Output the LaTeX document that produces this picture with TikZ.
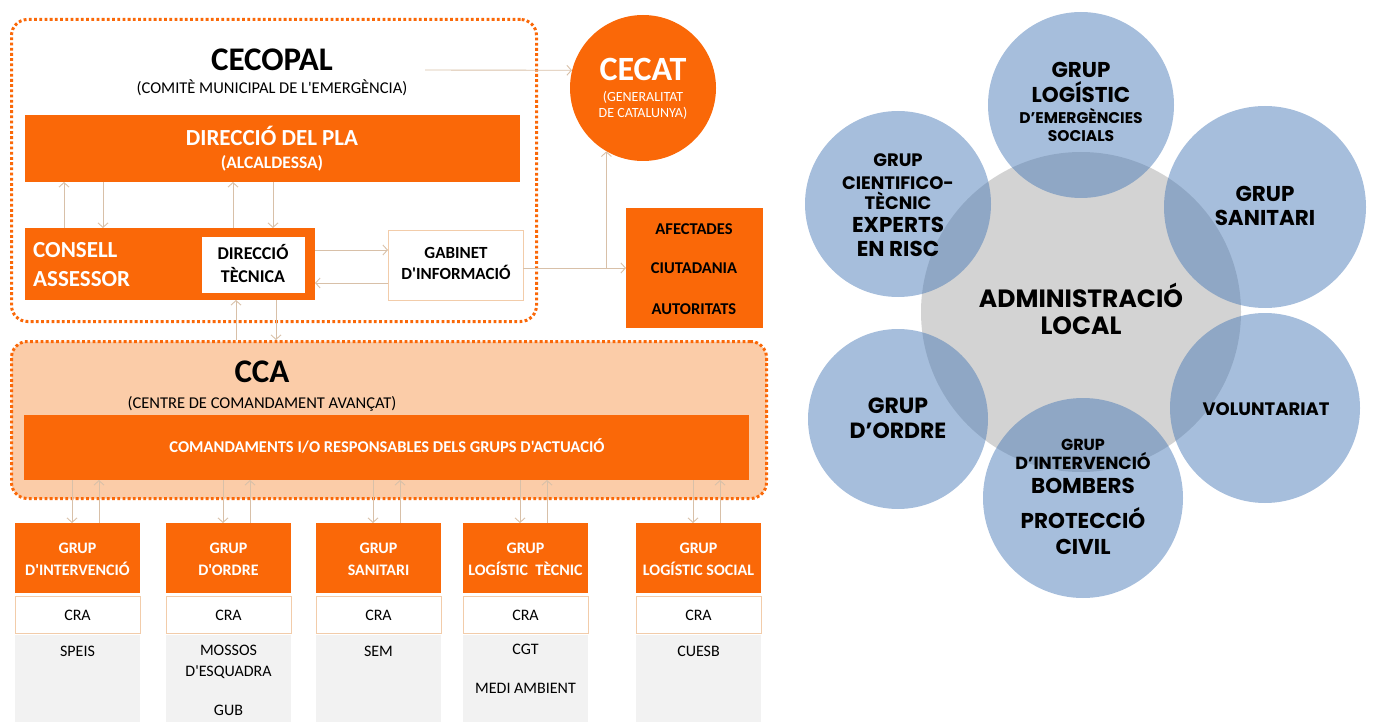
\documentclass[tikz,border=0pt]{standalone}
\usepackage{fontspec}
\usetikzlibrary{arrows.meta,calc}
\newfontfamily\calfont{Carlito}
\newfontfamily\gothfont{Poppins}
\definecolor{orng}{RGB}{250,104,8}
\definecolor{peach}{RGB}{251,204,168}
\definecolor{tanline}{RGB}{216,192,168}
\definecolor{lgrey}{RGB}{242,242,242}
\definecolor{cblue}{RGB}{70,120,182}
\definecolor{cgrey}{RGB}{211,211,211}
\definecolor{crab}{RGB}{242,204,170}
\newcommand\fz[1]{\fontsize{#1}{#1}\selectfont}
\begin{document}
\begin{tikzpicture}[x=1pt,y=-1pt,
  obox/.style={fill=orng, anchor=north west, inner sep=0, outer sep=0},
  wbox/.style={fill=white, draw=crab, line width=0.8pt, anchor=north west, inner sep=0, outer sep=0},
  gbox/.style={fill=lgrey, anchor=north west, inner sep=0, outer sep=0},
  dotframe/.style={draw=orng, line width=3pt, dash pattern=on 2.8pt off 2.4pt, rounded corners=16pt, anchor=north west, inner sep=0},
  arr/.style={draw=tanline, line width=0.9pt, -{Straight Barb[length=4.5pt,width=10pt]}},
  lbl/.style={inner sep=0, anchor=base, font=\calfont},
  wl/.style={lbl, text=white},
  circ/.style={circle, inner sep=0, fill=cblue, fill opacity=0.48, text opacity=1},
  rl/.style={inner sep=0, anchor=base, font=\gothfont\bfseries}]
\useasboundingbox (0,0) rectangle (1374,722);

% ---------- CECOPAL frame ----------
\node[dotframe, minimum width=525, minimum height=302] (cecopalbox) at (10,18) {};
\node[lbl, font=\calfont\bfseries\fz{33}] (tcecopal) at (272,70.6) {CECOPAL};
\node[lbl, font=\calfont\fz{16.5}] (tcomite) at (272,93.3) {(COMITÈ MUNICIPAL DE L'EMERGÈNCIA)};

\node[obox, minimum width=495, minimum height=67] (pla) at (25,115) {};
\node[wl, font=\calfont\bfseries\fz{23}] (tpla) at (272,145.4) {DIRECCIÓ DEL PLA};
\node[wl, font=\calfont\bfseries\fz{17.5}] (talc) at (272,168.6) {(ALCALDESSA)};

\node[obox, minimum width=290, minimum height=72] (consell) at (25,228) {};
\node[wl, anchor=base west, font=\calfont\bfseries\fz{23}] (tcons) at (33,257.4) {CONSELL};
\node[wl, anchor=base west, font=\calfont\bfseries\fz{23}] (tass) at (33,286.4) {ASSESSOR};
\node[fill=white, anchor=north west, inner sep=0, minimum width=103, minimum height=56] (dirtec) at (202,237) {};
\node[lbl, font=\calfont\bfseries\fz{18}] (tdir) at (253,259.8) {DIRECCIÓ};
\node[lbl, font=\calfont\bfseries\fz{18}] (ttec) at (253,282.8) {TÈCNICA};

\node[wbox, minimum width=135, minimum height=70] (gabinet) at (388,230) {};
\node[lbl, font=\calfont\bfseries\fz{17}] (tgab) at (456,258.4) {GABINET};
\node[lbl, font=\calfont\bfseries\fz{17}] (tinf) at (456,279.4) {D'INFORMACIÓ};

% ---------- CECAT ----------
\node[circle, fill=orng, inner sep=0, minimum size=146] (cecat) at (643,88) {};
\node[wl, font=\calfont\bfseries\fz{34}] (tcecat) at (643,80.9) {CECAT};
\node[wl, font=\calfont\fz{14}] (tgen) at (643,101.5) {(GENERALITAT};
\node[wl, font=\calfont\fz{14}] (tcat) at (643,117.5) {DE CATALUNYA)};

% ---------- AFECTADES ----------
\node[obox, minimum width=137, minimum height=120] (afect) at (626,208) {};
\node[lbl, font=\calfont\bfseries\fz{16.5}] (taf) at (694,234.3) {AFECTADES};
\node[lbl, font=\calfont\bfseries\fz{16.5}] (tciu) at (694,273.3) {CIUTADANIA};
\node[lbl, font=\calfont\bfseries\fz{16.5}] (taut) at (694,314.3) {AUTORITATS};

% ---------- CCA ----------
\node[dotframe, fill=peach, minimum width=755, minimum height=157] (ccabox) at (10,340) {};
\node[lbl, font=\calfont\bfseries\fz{33}] (tcca) at (262,382.6) {CCA};
\node[lbl, font=\calfont\fz{16.5}] (tcentre) at (262,408.3) {(CENTRE DE COMANDAMENT AVANÇAT)};
\node[obox, minimum width=725, minimum height=65] (coman) at (24,415) {};
\node[wl, font=\calfont\bfseries\fz{16.5}] (tcoman) at (387,452.3) {COMANDAMENTS I/O RESPONSABLES DELS GRUPS D'ACTUACIÓ};

% ---------- arrows in CECOPAL ----------
\coordinate (xa) at (64,0);
\coordinate (xb) at (103,0);
\coordinate (xc) at (233,0);
\coordinate (xd) at (273,0);
\draw[arr] (consell.north -| xa) -- (pla.south -| xa);
\draw[arr] (pla.south -| xb) -- (consell.north -| xb);
\draw[arr] (consell.north -| xc) -- (pla.south -| xc);
\draw[arr] (pla.south -| xd) -- (consell.north -| xd);
\coordinate (ya) at (0,250);
\coordinate (yb) at (0,283);
\draw[arr] (consell.east |- ya) -- (gabinet.west |- ya);
\draw[arr] (gabinet.west |- yb) -- (consell.east |- yb);
\coordinate (cstart) at (425,70);
\draw[arr] (cstart) -- (cecat.166);
\coordinate (ygab) at (0,268);
\coordinate (brk) at (cecat.240 |- ygab);
\draw[arr] (gabinet.east |- ygab) -- (afect.west |- ygab);
\draw[arr] (brk) -- (cecat.240);
\coordinate (xe) at (236,0);
\coordinate (xf) at (276,0);
\draw[arr] (ccabox.north -| xe) -- (consell.south -| xe);
\draw[arr] (consell.south -| xf) -- (ccabox.north -| xf);

% ---------- groups ----------
\foreach \i/\x/\t in {1/15/D'INTERVENCIÓ, 2/166/D'ORDRE, 3/316/SANITARI, 4/463/LOGÍSTIC\ \ TÈCNIC, 5/636/LOGÍSTIC SOCIAL}{
  \node[obox, minimum width=125, minimum height=70] (hd\i) at (\x,523) {};
  \node[wl, font=\calfont\bfseries\fz{16}] (hg\i) at (\x+62.5,553.1) {GRUP};
  \node[wl, font=\calfont\bfseries\fz{16}] (hn\i) at (\x+62.5,575.1) {\t};
  \node[wbox, minimum width=125, minimum height=37] (cra\i) at (\x,596) {};
  \node[lbl, font=\calfont\fz{16}] (tcra\i) at (\x+62.5,620.1) {CRA};
  \node[gbox, minimum width=125, minimum height=88] (gr\i) at (\x,635) {};
  \coordinate (dn\i) at (\x+57,0);
  \coordinate (up\i) at (\x+84,0);
  \draw[arr] (coman.south -| dn\i) -- (hd\i.north -| dn\i);
  \draw[arr] (hd\i.north -| up\i) -- (coman.south -| up\i);
}
\node[lbl, font=\calfont\fz{16}] (tspeis) at (77.5,656.1) {SPEIS};
\node[lbl, font=\calfont\fz{16}] (tmos) at (228.5,655.1) {MOSSOS};
\node[lbl, font=\calfont\fz{16}] (tesq) at (228.5,676.1) {D'ESQUADRA};
\node[lbl, font=\calfont\fz{16}] (tgub) at (228.5,715.1) {GUB};
\node[lbl, font=\calfont\fz{16}] (tsem) at (378.5,656.1) {SEM};
\node[lbl, font=\calfont\fz{16}] (tcgt) at (525.5,654.1) {CGT};
\node[lbl, font=\calfont\fz{16}] (tmedi) at (525.5,693.1) {MEDI AMBIENT};
\node[lbl, font=\calfont\fz{16}] (tcuesb) at (698.5,656.1) {CUESB};

% ---------- right: circles ----------
\node[circle, fill=cgrey, inner sep=0, minimum size=320] (admin) at (1081,312) {};
\node[circ, minimum size=186] (ctop) at (1081,105) {};
\node[circ, minimum size=186] (cul) at (898,204) {};
\node[circ, minimum size=202] (cur) at (1265,207) {};
\node[circ, minimum size=180] (cll) at (898,419) {};
\node[circ, minimum size=190] (clr) at (1265,408) {};
\node[circ, minimum size=200] (cbot) at (1083,498) {};

\node[rl, font=\gothfont\bfseries\fz{21.5}] (r1a) at (1081,77.5) {GRUP};
\node[rl, font=\gothfont\bfseries\fz{21.5}] (r1b) at (1081,102.5) {LOGÍSTIC};
\node[rl, font=\gothfont\bfseries\fz{15.5}] (r1c) at (1081,123.4) {D’EMERGÈNCIES};
\node[rl, font=\gothfont\bfseries\fz{15.5}] (r1d) at (1081,141.4) {SOCIALS};

\node[rl, font=\gothfont\bfseries\fz{18}] (r2a) at (898,166.8) {GRUP};
\node[rl, font=\gothfont\bfseries\fz{18}] (r2b) at (898,189.3) {CIENTIFICO-};
\node[rl, font=\gothfont\bfseries\fz{18}] (r2c) at (898,209.3) {TÈCNIC};
\node[rl, font=\gothfont\bfseries\fz{21.5}] (r2d) at (898,232.5) {EXPERTS};
\node[rl, font=\gothfont\bfseries\fz{21.5}] (r2e) at (898,257) {EN RISC};

\node[rl, font=\gothfont\bfseries\fz{21.5}] (r3a) at (1265,202) {GRUP};
\node[rl, font=\gothfont\bfseries\fz{21.5}] (r3b) at (1265,226) {SANITARI};

\node[rl, font=\gothfont\bfseries\fz{25}] (r4a) at (1081,307.8) {ADMINISTRACIÓ};
\node[rl, font=\gothfont\bfseries\fz{25}] (r4b) at (1081,334.3) {LOCAL};

\node[rl, font=\gothfont\bfseries\fz{22}] (r5a) at (898,413.2) {GRUP};
\node[rl, font=\gothfont\bfseries\fz{22}] (r5b) at (898,438.2) {D’ORDRE};

\node[rl, font=\gothfont\bfseries\fz{18}] (r6a) at (1266,415.8) {VOLUNTARIAT};

\node[rl, font=\gothfont\bfseries\fz{16}] (r7a) at (1083,450.6) {GRUP};
\node[rl, font=\gothfont\bfseries\fz{17.5}] (r7b) at (1083,469.1) {D’INTERVENCIÓ};
\node[rl, font=\gothfont\bfseries\fz{21.5}] (r7c) at (1083,493.5) {BOMBERS};
\node[rl, font=\gothfont\bfseries\fz{21.5}] (r7d) at (1083,528.5) {PROTECCIÓ};
\node[rl, font=\gothfont\bfseries\fz{21.5}] (r7e) at (1083,554) {CIVIL};
\end{tikzpicture}
\end{document}
